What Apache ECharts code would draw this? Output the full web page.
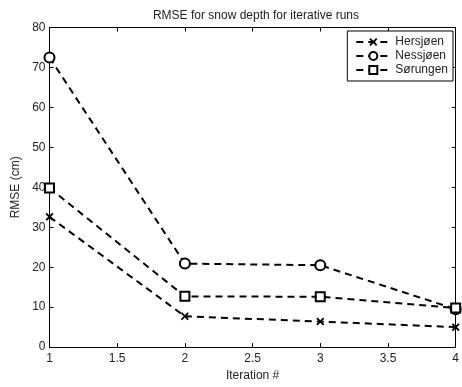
<!DOCTYPE html>
<html>
<head>
<meta charset="utf-8">
<script src="https://cdn.jsdelivr.net/npm/echarts@6/dist/echarts.min.js"></script>
<style>
  html, body { margin: 0; padding: 0; background: #fff; }
  #chart { width: 462px; height: 387px; }
</style>
</head>
<body>
<div id="chart"></div>
<script>
// Iteration numbers and RMSE (cm) per lake
const iterations = [1, 2, 3, 4];
const hersjoen = [32.6, 7.7, 6.4, 5.0];
const nessjoen = [72.5, 20.9, 20.5, 9.5];
const sorungen = [39.8, 12.7, 12.6, 9.8];
const seriesNames = ['Hersjøen', 'Nessjøen', 'Sørungen'];

const FONT = 'Liberation Sans, Arial, Helvetica, sans-serif';
const pairs = (ys) => iterations.map((x, i) => [x, ys[i]]);

// bold "x" marker as a filled outline
const crossPath = 'path://M1.6,0 L5,3.4 L8.4,0 L10,1.6 L6.6,5 L10,8.4 L8.4,10 L5,6.6 L1.6,10 L0,8.4 L3.4,5 L0,1.6 Z';

const chart = echarts.init(document.getElementById('chart'), null, { renderer: 'canvas' });

const lineStyle = { color: '#000', width: 2, type: [7, 5] };

function makeSeries(name, ys, symbol, size) {
  return {
    name: name,
    type: 'line',
    data: pairs(ys),
    symbol: symbol,
    symbolSize: size,
    showAllSymbol: true,
    lineStyle: lineStyle,
    itemStyle: { color: '#000', borderColor: '#000', borderWidth: symbol === crossPath ? 0 : 2 },
    emphasis: { disabled: true },
    z: 3
  };
}

const tickStyle = { inside: true, length: 4, lineStyle: { color: '#000', width: 1 } };
const axisLine = { show: true, onZero: false, lineStyle: { color: '#000', width: 1 } };
const labelStyle = { color: '#222', fontSize: 12, fontFamily: FONT };

chart.setOption({
  animation: false,
  backgroundColor: '#fff',
  title: {
    text: 'RMSE for snow depth for iterative runs',
    left: 251,
    textAlign: 'center',
    top: 5,
    textStyle: { fontSize: 12, fontWeight: 'normal', color: '#222', fontFamily: FONT }
  },
  legend: {
    data: seriesNames,
    orient: 'vertical',
    right: 9,
    top: 31,
    padding: [5, 5, 5, 8],
    itemGap: 2,
    itemWidth: 34,
    itemHeight: 10,
    backgroundColor: '#fff',
    borderColor: '#000',
    borderWidth: 1,
    borderRadius: 0,
    selectedMode: false,
    textStyle: { fontSize: 12, color: '#222', fontFamily: FONT, padding: [0, 0, 0, 0] }
  },
  grid: { left: 49.5, right: 2, top: 27.5, bottom: 37 },
  xAxis: [
    {
      type: 'value', min: 1, max: 4, interval: 0.5, position: 'bottom',
      name: 'Iteration #', nameLocation: 'middle', nameGap: 20,
      nameTextStyle: labelStyle,
      axisLine: axisLine, axisTick: tickStyle,
      axisLabel: Object.assign({ margin: 6 }, labelStyle),
      splitLine: { show: false }
    },
    {
      type: 'value', min: 1, max: 4, interval: 0.5, position: 'top',
      axisLine: axisLine, axisTick: tickStyle,
      axisLabel: { show: false }, splitLine: { show: false }
    }
  ],
  yAxis: [
    {
      type: 'value', min: 0, max: 80, interval: 10, position: 'left',
      name: 'RMSE (cm)', nameLocation: 'middle', nameGap: 21, nameRotate: 90,
      nameTextStyle: labelStyle,
      axisLine: axisLine, axisTick: tickStyle,
      axisLabel: Object.assign({ margin: 4 }, labelStyle),
      splitLine: { show: false }
    },
    {
      type: 'value', min: 0, max: 80, interval: 10, position: 'right',
      axisLine: axisLine, axisTick: tickStyle,
      axisLabel: { show: false }, splitLine: { show: false }
    }
  ],
  series: [
    makeSeries(seriesNames[0], hersjoen, crossPath, 8),
    makeSeries(seriesNames[1], nessjoen, 'emptyCircle', 10),
    makeSeries(seriesNames[2], sorungen, 'emptyRect', 9)
  ]
});
</script>
</body>
</html>
